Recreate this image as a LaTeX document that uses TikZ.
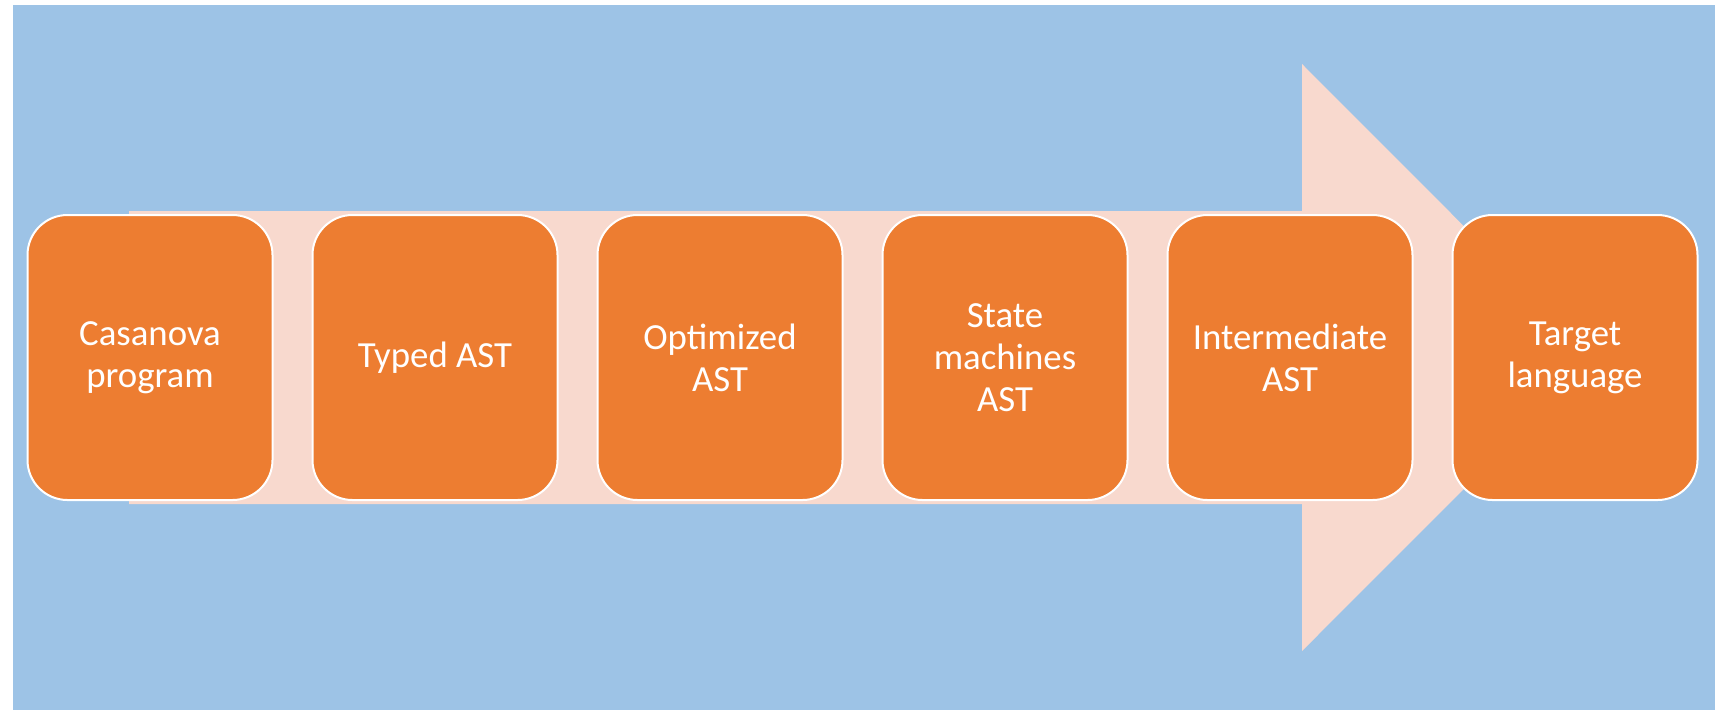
\documentclass[tikz,border=0pt]{standalone}
\usepackage{fontspec}
\setmainfont{Carlito}
\usepackage{tikz}
\usetikzlibrary{positioning}

\definecolor{skyblue}{HTML}{9DC3E6}
\definecolor{peach}{HTML}{F8D9CE}
\definecolor{carrot}{HTML}{ED7D31}

\begin{document}
\begin{tikzpicture}[x=0.5pt, y=-0.5pt, node distance=142.5pt,
    stage/.style={rectangle, rounded corners=20pt, fill=carrot, draw=white,
      line width=1pt, minimum width=122.5pt, minimum height=142.5pt,
      align=center, text=white, font=\fontsize{18.4}{21}\selectfont}]
  \useasboundingbox (0,0) rectangle (1725,714);
  \fill[skyblue] (13,5) rectangle (1715,710);
  \fill[peach] (129,211) -- (1302,211) -- (1302,64) -- (1595,357.5)
               -- (1302,651) -- (1302,504) -- (129,504) -- cycle;

  \node[stage] (source)  at (150,357.5)         {Casanova\\program};
  \node[stage] (typed)   [right of=source]      {Typed AST};
  \node[stage] (opt)     [right of=typed]       {Optimized\\AST};
  \node[stage] (sm)      [right of=opt]         {State\\machines\\AST};
  \node[stage] (inter)   [right of=sm]          {Intermediate\\AST};
  \node[stage] (target)  [right of=inter]       {Target\\language};
\end{tikzpicture}
\end{document}
